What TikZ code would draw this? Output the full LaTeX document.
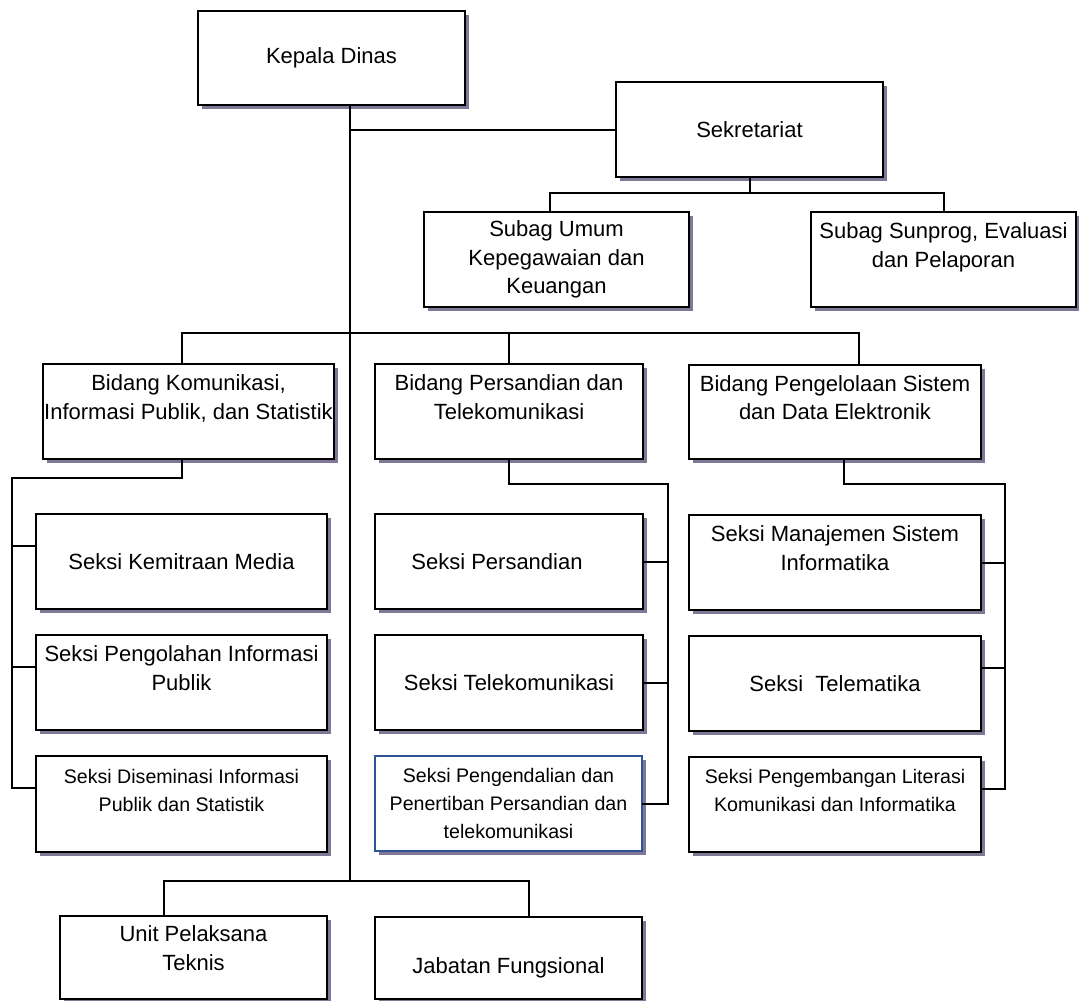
\documentclass[tikz,border=0pt]{standalone}
\usepackage{fontspec}
\setmainfont{Liberation Sans}
\usetikzlibrary{calc,shadows}

\definecolor{shadowgray}{RGB}{128,118,150}
\definecolor{boxblue}{RGB}{47,84,150}

\begin{document}
\begin{tikzpicture}[x=1pt,y=-1pt,
  box/.style={draw, line width=2.8pt, fill=white, rectangle, anchor=north west,
    inner sep=0, outer sep=0, align=center, font=\fontsize{22}{28.5}\selectfont,
    drop shadow={shadow xshift=3.5pt, shadow yshift=-4pt, fill=shadowgray, opacity=1}},
  small/.style={font=\fontsize{19.6}{28}\selectfont},
  conn/.style={draw, line width=2pt}]
\useasboundingbox (0,0) rectangle (1079,1001);
\clip (0,0) rectangle (1079,1001);

% top level
\node[box, minimum width=267, minimum height=94] (kepala) at (198,11) {Kepala Dinas};
\node[box, minimum width=267, minimum height=95] (sekretariat) at (616,82) {Sekretariat};
\node[box, minimum width=265, minimum height=95] (subagumum) at (424,212) {Subag Umum\\Kepegawaian dan\\Keuangan};
\node[box, minimum width=265, minimum height=95] (subagsunprog) at (811,212) {Subag Sunprog, Evaluasi\\dan Pelaporan\\~};

% bidang
\node[box, minimum width=291, minimum height=95] (bidangkom) at (43,364) {Bidang Komunikasi,\\Informasi Publik, dan Statistik\\~};
\node[box, minimum width=268, minimum height=95] (bidangsandi) at (375,364) {Bidang Persandian dan\\Telekomunikasi\\~};
\node[box, minimum width=292, minimum height=94] (bidangsistem) at (689,365) {Bidang Pengelolaan Sistem\\dan Data Elektronik\\~};

% seksi, kiri
\node[box, minimum width=291, minimum height=95] (kemitraan) at (36,514) {Seksi Kemitraan Media};
\node[box, minimum width=291, minimum height=95] (pengolahan) at (36,635) {Seksi Pengolahan Informasi\\Publik\\~};
\node[box, small, minimum width=291, minimum height=96] (diseminasi) at (36,756) {Seksi Diseminasi Informasi\\Publik dan Statistik\\~};

% seksi, tengah
\node[box, minimum width=268, minimum height=95] (persandian) at (375,514) {Seksi Persandian\hspace*{24pt}};
\node[box, minimum width=268, minimum height=95] (telekom) at (375,635) {Seksi Telekomunikasi};
\node[box, small, draw=boxblue, line width=2.2pt, minimum width=267, minimum height=95] (pengendalian) at (375,756) {Seksi Pengendalian dan\\Penertiban Persandian dan\\telekomunikasi};

% seksi, kanan
\node[box, minimum width=292, minimum height=95] (manajemen) at (689,515) {Seksi Manajemen Sistem\\Informatika\\~};
\node[box, minimum width=292, minimum height=95] (telematika) at (689,636) {Seksi\ \ Telematika};
\node[box, small, minimum width=292, minimum height=95] (pengembangan) at (689,757) {Seksi Pengembangan Literasi\\Komunikasi dan Informatika\\~};

% bawah
\node[box, minimum width=267, minimum height=83] (upt) at (60,916) {Unit Pelaksana\\Teknis\\[-10pt]~};
\node[box, minimum width=267, minimum height=82] (jabatan) at (375,917) {\raisebox{-7pt}[16pt][0pt]{Jabatan Fungsional}};

% garis
\coordinate (trunk) at (350,881);
\coordinate (sbus) at ($(sekretariat.south)+(0,16)$);
\coordinate (bbus) at (350,333);
\coordinate (lbus) at (12,478);
\coordinate (mbus) at (668,484);
\coordinate (rbus) at (1005,484);

\draw[conn] (kepala.south -| trunk) -- (trunk);
\draw[conn] (sekretariat.west) -- (sekretariat.west -| trunk);
\draw[conn] (sekretariat.south) -- (sbus);
\draw[conn] ([xshift=-7]subagumum.north) |- (sbus) -| (subagsunprog.north);

\draw[conn] ([xshift=-7]bidangkom.north) |- (bbus) -| ([xshift=24]bidangsistem.north);
\draw[conn] (bidangsandi.north) -- (bidangsandi.north |- bbus);

\draw[conn] ([xshift=-7]bidangkom.south) |- (lbus) |- ([yshift=16]diseminasi.west);
\foreach \s in {kemitraan,pengolahan}
  \draw[conn] ([yshift=16]\s.west) -- ([yshift=16]\s.west -| lbus);

\draw[conn] (bidangsandi.south) |- (mbus) |- (pengendalian.east);
\foreach \s in {persandian,telekom}
  \draw[conn] (\s.east) -- (\s.east -| mbus);

\draw[conn] ([xshift=9]bidangsistem.south) |- (rbus) |- ([yshift=16]pengembangan.east);
\draw[conn] (manajemen.east) -- (manajemen.east -| rbus);
\draw[conn] ([yshift=16]telematika.east) -- ([yshift=16]telematika.east -| rbus);

\draw[conn] ([xshift=-30]upt.north) |- (trunk) -| ([xshift=20]jabatan.north);

\end{tikzpicture}
\end{document}
